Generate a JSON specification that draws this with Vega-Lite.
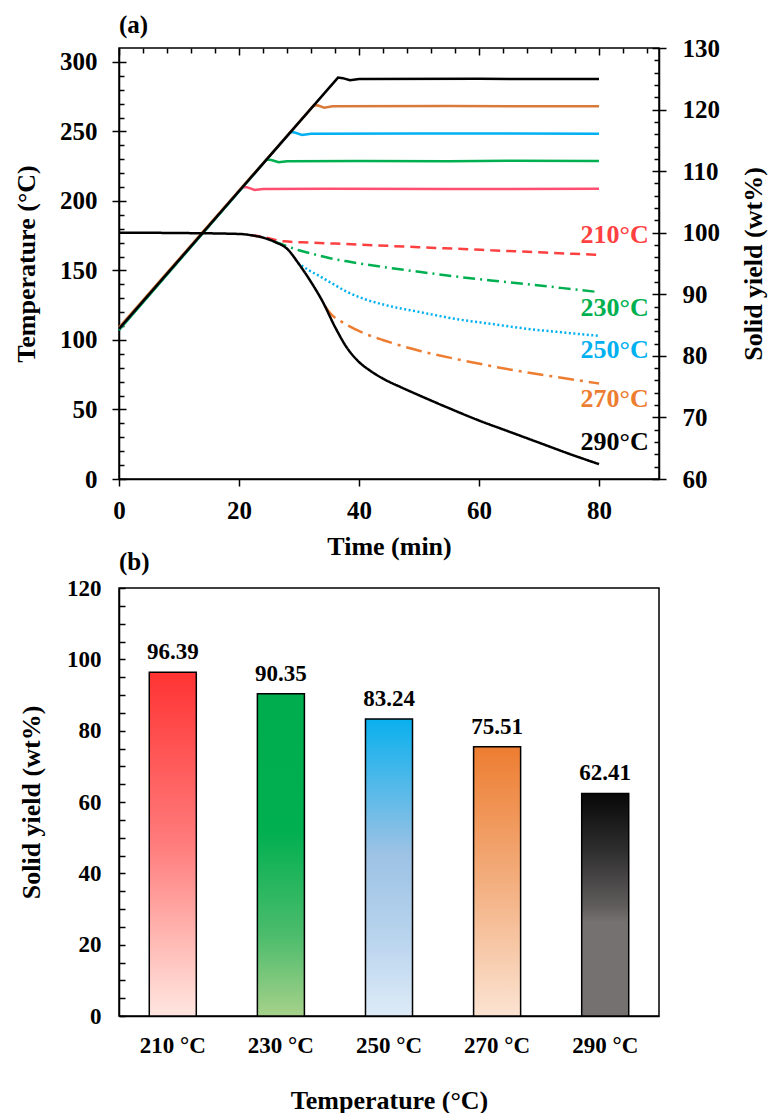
{
  "$schema": "https://vega.github.io/schema/vega-lite/v6.json",
  "padding": {"left": 12, "top": 12, "right": 0, "bottom": 0},
  "spacing": -11,
  "datasets": {
    "temperature": [
      {"run": "210 °C", "time": 0, "temp": 108}, {"run": "210 °C", "time": 20.6, "temp": 210.0}, {"run": "210 °C", "time": 21.3, "temp": 209.9}, {"run": "210 °C", "time": 22.6, "temp": 207.9}, {"run": "210 °C", "time": 24.0, "temp": 208.6}, {"run": "210 °C", "time": 35, "temp": 208.7}, {"run": "210 °C", "time": 55, "temp": 208.6}, {"run": "210 °C", "time": 80, "temp": 208.7},
      {"run": "230 °C", "time": 0, "temp": 107}, {"run": "230 °C", "time": 24.6, "temp": 229.8}, {"run": "230 °C", "time": 25.4, "temp": 229.4}, {"run": "230 °C", "time": 26.6, "temp": 227.8}, {"run": "230 °C", "time": 28.0, "temp": 228.6}, {"run": "230 °C", "time": 40, "temp": 228.8}, {"run": "230 °C", "time": 55, "temp": 228.6}, {"run": "230 °C", "time": 65, "temp": 228.9}, {"run": "230 °C", "time": 80, "temp": 228.7},
      {"run": "250 °C", "time": 0, "temp": 108}, {"run": "250 °C", "time": 28.6, "temp": 249.6}, {"run": "250 °C", "time": 29.3, "temp": 249.2}, {"run": "250 °C", "time": 30.5, "temp": 247.5}, {"run": "250 °C", "time": 32.0, "temp": 248.4}, {"run": "250 °C", "time": 50, "temp": 248.5}, {"run": "250 °C", "time": 80, "temp": 248.4},
      {"run": "270 °C", "time": 0, "temp": 109}, {"run": "270 °C", "time": 32.5, "temp": 268.9}, {"run": "270 °C", "time": 33.2, "temp": 268.6}, {"run": "270 °C", "time": 34.2, "temp": 267.0}, {"run": "270 °C", "time": 35.6, "temp": 268.1}, {"run": "270 °C", "time": 55, "temp": 268.2}, {"run": "270 °C", "time": 80, "temp": 268.1},
      {"run": "290 °C", "time": 0, "temp": 108}, {"run": "290 °C", "time": 36.5, "temp": 288.7}, {"run": "290 °C", "time": 37.3, "temp": 288.3}, {"run": "290 °C", "time": 38.5, "temp": 286.8}, {"run": "290 °C", "time": 40.0, "temp": 287.7}, {"run": "290 °C", "time": 60, "temp": 287.8}, {"run": "290 °C", "time": 80, "temp": 287.7}
    ],
    "yield": [
      {"run": "210 °C", "time": 22, "yield": 99.6}, {"run": "210 °C", "time": 24, "yield": 99.3}, {"run": "210 °C", "time": 27.5, "yield": 98.6}, {"run": "210 °C", "time": 32, "yield": 98.4}, {"run": "210 °C", "time": 38, "yield": 98.15}, {"run": "210 °C", "time": 50, "yield": 97.65}, {"run": "210 °C", "time": 62, "yield": 97.15}, {"run": "210 °C", "time": 71, "yield": 96.78}, {"run": "210 °C", "time": 80, "yield": 96.39},
      {"run": "230 °C", "time": 26, "yield": 98.5}, {"run": "230 °C", "time": 28, "yield": 97.8}, {"run": "230 °C", "time": 30, "yield": 97.15}, {"run": "230 °C", "time": 32.3, "yield": 96.55}, {"run": "230 °C", "time": 35, "yield": 95.9}, {"run": "230 °C", "time": 38, "yield": 95.35}, {"run": "230 °C", "time": 44, "yield": 94.45}, {"run": "230 °C", "time": 50, "yield": 93.65}, {"run": "230 °C", "time": 56, "yield": 92.9}, {"run": "230 °C", "time": 62, "yield": 92.25}, {"run": "230 °C", "time": 68, "yield": 91.65}, {"run": "230 °C", "time": 74, "yield": 91.0}, {"run": "230 °C", "time": 80, "yield": 90.35},
      {"run": "250 °C", "time": 29.8, "yield": 95.1}, {"run": "250 °C", "time": 31.5, "yield": 94.0}, {"run": "250 °C", "time": 33.5, "yield": 92.9}, {"run": "250 °C", "time": 35.8, "yield": 91.6}, {"run": "250 °C", "time": 38.2, "yield": 90.3}, {"run": "250 °C", "time": 41, "yield": 89.2}, {"run": "250 °C", "time": 44.2, "yield": 88.3}, {"run": "250 °C", "time": 50.2, "yield": 87.1}, {"run": "250 °C", "time": 56.1, "yield": 86.0}, {"run": "250 °C", "time": 62, "yield": 85.2}, {"run": "250 °C", "time": 68, "yield": 84.4}, {"run": "250 °C", "time": 74, "yield": 83.8}, {"run": "250 °C", "time": 80, "yield": 83.24},
      {"run": "270 °C", "time": 34.3, "yield": 88.1}, {"run": "270 °C", "time": 35.5, "yield": 86.6}, {"run": "270 °C", "time": 37, "yield": 85.6}, {"run": "270 °C", "time": 38.2, "yield": 84.9}, {"run": "270 °C", "time": 41, "yield": 83.6}, {"run": "270 °C", "time": 44.2, "yield": 82.5}, {"run": "270 °C", "time": 50.2, "yield": 80.8}, {"run": "270 °C", "time": 56.1, "yield": 79.5}, {"run": "270 °C", "time": 62, "yield": 78.35}, {"run": "270 °C", "time": 68, "yield": 77.3}, {"run": "270 °C", "time": 74, "yield": 76.4}, {"run": "270 °C", "time": 80, "yield": 75.51},
      {"run": "290 °C", "time": 0, "yield": 100.0}, {"run": "290 °C", "time": 10, "yield": 99.95}, {"run": "290 °C", "time": 20, "yield": 99.8}, {"run": "290 °C", "time": 22, "yield": 99.6}, {"run": "290 °C", "time": 24, "yield": 99.2}, {"run": "290 °C", "time": 26, "yield": 98.5}, {"run": "290 °C", "time": 28, "yield": 97.4}, {"run": "290 °C", "time": 30, "yield": 94.9}, {"run": "290 °C", "time": 32, "yield": 92.0}, {"run": "290 °C", "time": 34, "yield": 88.7}, {"run": "290 °C", "time": 36, "yield": 84.7}, {"run": "290 °C", "time": 38, "yield": 81.3}, {"run": "290 °C", "time": 40, "yield": 79.0}, {"run": "290 °C", "time": 42, "yield": 77.5}, {"run": "290 °C", "time": 44, "yield": 76.3}, {"run": "290 °C", "time": 47, "yield": 74.9}, {"run": "290 °C", "time": 50, "yield": 73.6}, {"run": "290 °C", "time": 55, "yield": 71.5}, {"run": "290 °C", "time": 60, "yield": 69.5}, {"run": "290 °C", "time": 65, "yield": 67.7}, {"run": "290 °C", "time": 70, "yield": 65.9}, {"run": "290 °C", "time": 75, "yield": 64.1}, {"run": "290 °C", "time": 80, "yield": 62.41}
    ],
    "tags": [
      {"run": "210 °C", "label": "210°C", "time": 88.3, "yield": 99.7},
      {"run": "230 °C", "label": "230°C", "time": 88.3, "yield": 87.7},
      {"run": "250 °C", "label": "250°C", "time": 88.3, "yield": 81.0},
      {"run": "270 °C", "label": "270°C", "time": 88.3, "yield": 73.0},
      {"run": "290 °C", "label": "290°C", "time": 88.3, "yield": 66.0}
    ],
    "bars": [
      {"temp": "210 °C", "yield": 96.39},
      {"temp": "230 °C", "yield": 90.35},
      {"temp": "250 °C", "yield": 83.24},
      {"temp": "270 °C", "yield": 75.51},
      {"temp": "290 °C", "yield": 62.41}
    ]
  },
  "config": {
    "font": "Liberation Serif",
    "view": {"stroke": "black", "strokeWidth": 1.5},
    "axis": {
      "labelFont": "Liberation Serif", "labelFontSize": 25, "labelFontWeight": "bold", "labelColor": "black",
      "titleFont": "Liberation Serif", "titleFontSize": 26, "titleFontWeight": "bold", "titleColor": "black",
      "domainColor": "black", "domainWidth": 1.5, "tickColor": "black", "tickWidth": 1.5,
      "gridColor": "black", "gridWidth": 1.5, "gridOpacity": 1,
      "labelOverlap": false, "labelFlush": false, "labelBound": false
    },
    "title": {"font": "Liberation Serif", "fontSize": 25, "fontWeight": "bold", "color": "black", "anchor": "start", "frame": "group", "baseline": "alphabetic"}
  },
  "vconcat": [
    {
      "title": {"text": "(a)", "offset": -2},
      "width": 540,
      "height": 431,
      "encoding": {
        "x": {
          "field": "time", "type": "quantitative",
          "scale": {"domain": [0, 90], "nice": false},
          "axis": {
            "title": "Time (min)",
            "values": [0, 4, 8, 12, 16, 20, 24, 28, 32, 36, 40, 44, 48, 52, 56, 60, 64, 68, 72, 76, 80, 84, 88],
            "labelExpr": "datum.value % 20 === 0 ? datum.label : ''",
            "tickSize": 7,
            "tickOpacity": {"condition": {"test": "datum.value % 20 === 0", "value": 1}, "value": 0},
            "grid": true,
            "gridDash": {"condition": {"test": "datum.value % 20 === 0", "value": [7, 2000]}, "value": [5, 2000]},
            "labelPadding": 12,
            "titlePadding": 10
          }
        }
      },
      "layer": [
        {
          "data": {"name": "temperature"},
          "mark": {"type": "line", "strokeWidth": 2.5},
          "encoding": {
            "y": {
              "field": "temp", "type": "quantitative",
              "scale": {"domain": [0, 310], "nice": false},
              "axis": {
                "orient": "left",
                "title": "Temperature (°C)",
                "values": [0, 10, 20, 30, 40, 50, 60, 70, 80, 90, 100, 110, 120, 130, 140, 150, 160, 170, 180, 190, 200, 210, 220, 230, 240, 250, 260, 270, 280, 290, 300],
                "labelExpr": "datum.value % 50 === 0 ? datum.label : ''",
                "tickSize": 7,
                "tickOpacity": {"condition": {"test": "datum.value % 50 === 0", "value": 1}, "value": 0},
                "grid": true,
                "gridDash": {"condition": {"test": "datum.value % 50 === 0", "value": [7, 2000]}, "value": [5, 2000]},
                "labelPadding": 15,
                "titlePadding": 20
              }
            },
            "color": {
              "field": "run", "type": "nominal", "legend": null,
              "scale": {"domain": ["210 °C", "230 °C", "250 °C", "270 °C", "290 °C"], "range": ["#FF4F70", "#00B050", "#00B0F0", "#D9793A", "#000000"]}
            }
          }
        },
        {
          "encoding": {
            "y": {
              "field": "yield", "type": "quantitative",
              "scale": {"domain": [60, 130], "nice": false},
              "axis": {
                "orient": "right",
                "title": "Solid yield (wt%)",
                "titleAngle": 270,
                "titleBaseline": "top",
                "values": [60, 62, 64, 66, 68, 70, 72, 74, 76, 78, 80, 82, 84, 86, 88, 90, 92, 94, 96, 98, 100, 102, 104, 106, 108, 110, 112, 114, 116, 118, 120, 122, 124, 126, 128, 130],
                "labelExpr": "datum.value % 10 === 0 ? datum.label : ''",
                "tickSize": 7,
                "tickOpacity": {"condition": {"test": "datum.value % 10 === 0", "value": 1}, "value": 0},
                "grid": true,
                "gridDash": {"condition": {"test": "datum.value % 10 === 0", "value": [7, 2000]}, "value": [5, 2000]},
                "labelPadding": 16,
                "titlePadding": 21
              }
            },
            "color": {
              "field": "run", "type": "nominal", "legend": null,
              "scale": {"domain": ["210 °C", "230 °C", "250 °C", "270 °C", "290 °C"], "range": ["#FF4040", "#00B050", "#00B0F0", "#ED7D31", "#000000"]}
            }
          },
          "layer": [
            {
              "data": {"name": "yield"},
              "mark": {"type": "line", "strokeWidth": 2.5, "interpolate": "monotone"},
              "encoding": {
                "strokeDash": {
                  "field": "run", "type": "nominal", "legend": null,
                  "scale": {"domain": ["210 °C", "230 °C", "250 °C", "270 °C", "290 °C"], "range": [[10, 6], [12, 5, 2, 5], [2, 2.5], [16, 6, 3, 6], [1, 0]]}
                }
              }
            },
            {
              "data": {"name": "tags"},
              "mark": {"type": "text", "align": "right", "baseline": "middle", "font": "Liberation Serif", "fontSize": 26, "fontWeight": "bold"},
              "encoding": {"text": {"field": "label"}}
            }
          ]
        }
      ],
      "resolve": {"scale": {"y": "independent", "color": "independent"}}
    },
    {
      "title": {"text": "(b)", "offset": 2},
      "width": 540,
      "height": 428,
      "data": {"name": "bars"},
      "encoding": {
        "x": {
          "field": "temp", "type": "nominal", "sort": null,
          "scale": {"paddingInner": 0.565, "paddingOuter": 0.28},
          "axis": {"title": "Temperature (°C)", "labelAngle": 0, "ticks": false, "labelFontSize": 23, "labelPadding": 18, "titlePadding": 30}
        },
        "y": {
          "field": "yield", "type": "quantitative",
          "scale": {"domain": [0, 120], "nice": false},
          "axis": {
            "title": "Solid yield (wt%)",
            "values": [0, 5, 10, 15, 20, 25, 30, 35, 40, 45, 50, 55, 60, 65, 70, 75, 80, 85, 90, 95, 100, 105, 110, 115, 120],
            "labelExpr": "datum.value % 20 === 0 ? datum.label : ''",
            "ticks": false,
            "grid": true,
            "gridDash": [6, 2000],
            "labelFontSize": 23,
            "labelPadding": 18,
            "titlePadding": 22
          }
        }
      },
      "layer": [
        {
          "mark": {"type": "bar", "stroke": "black", "strokeWidth": 1.5},
          "encoding": {
            "fill": {
              "condition": [
                {"test": {"field": "temp", "equal": "210 °C"}, "value": {"gradient": "linear", "x1": 0, "y1": 0, "x2": 0, "y2": 1, "stops": [{"offset": 0, "color": "#FF3333"}, {"offset": 0.5, "color": "#FF7C7C"}, {"offset": 0.8, "color": "#FFBDB8"}, {"offset": 1, "color": "#FFE6E0"}]}},
                {"test": {"field": "temp", "equal": "230 °C"}, "value": {"gradient": "linear", "x1": 0, "y1": 0, "x2": 0, "y2": 1, "stops": [{"offset": 0, "color": "#00AD4E"}, {"offset": 0.42, "color": "#00AF50"}, {"offset": 0.75, "color": "#4CBC6C"}, {"offset": 1, "color": "#A6D18A"}]}},
                {"test": {"field": "temp", "equal": "250 °C"}, "value": {"gradient": "linear", "x1": 0, "y1": 0, "x2": 0, "y2": 1, "stops": [{"offset": 0, "color": "#0AB0EE"}, {"offset": 0.45, "color": "#9CC2E5"}, {"offset": 0.75, "color": "#BAD5EE"}, {"offset": 1, "color": "#DEEBF7"}]}},
                {"test": {"field": "temp", "equal": "270 °C"}, "value": {"gradient": "linear", "x1": 0, "y1": 0, "x2": 0, "y2": 1, "stops": [{"offset": 0, "color": "#ED7D31"}, {"offset": 0.5, "color": "#F3AE7E"}, {"offset": 1, "color": "#FBE3D2"}]}}
              ],
              "value": {"gradient": "linear", "x1": 0, "y1": 0, "x2": 0, "y2": 1, "stops": [{"offset": 0, "color": "#080808"}, {"offset": 0.25, "color": "#2E2D2D"}, {"offset": 0.5, "color": "#5E5B5B"}, {"offset": 0.58, "color": "#767171"}, {"offset": 1, "color": "#767171"}]}
            }
          }
        },
        {
          "mark": {"type": "text", "baseline": "alphabetic", "dy": -13, "font": "Liberation Serif", "fontSize": 23, "fontWeight": "bold", "color": "black"},
          "encoding": {"text": {"field": "yield", "type": "quantitative", "format": ".2f"}}
        }
      ]
    }
  ]
}
